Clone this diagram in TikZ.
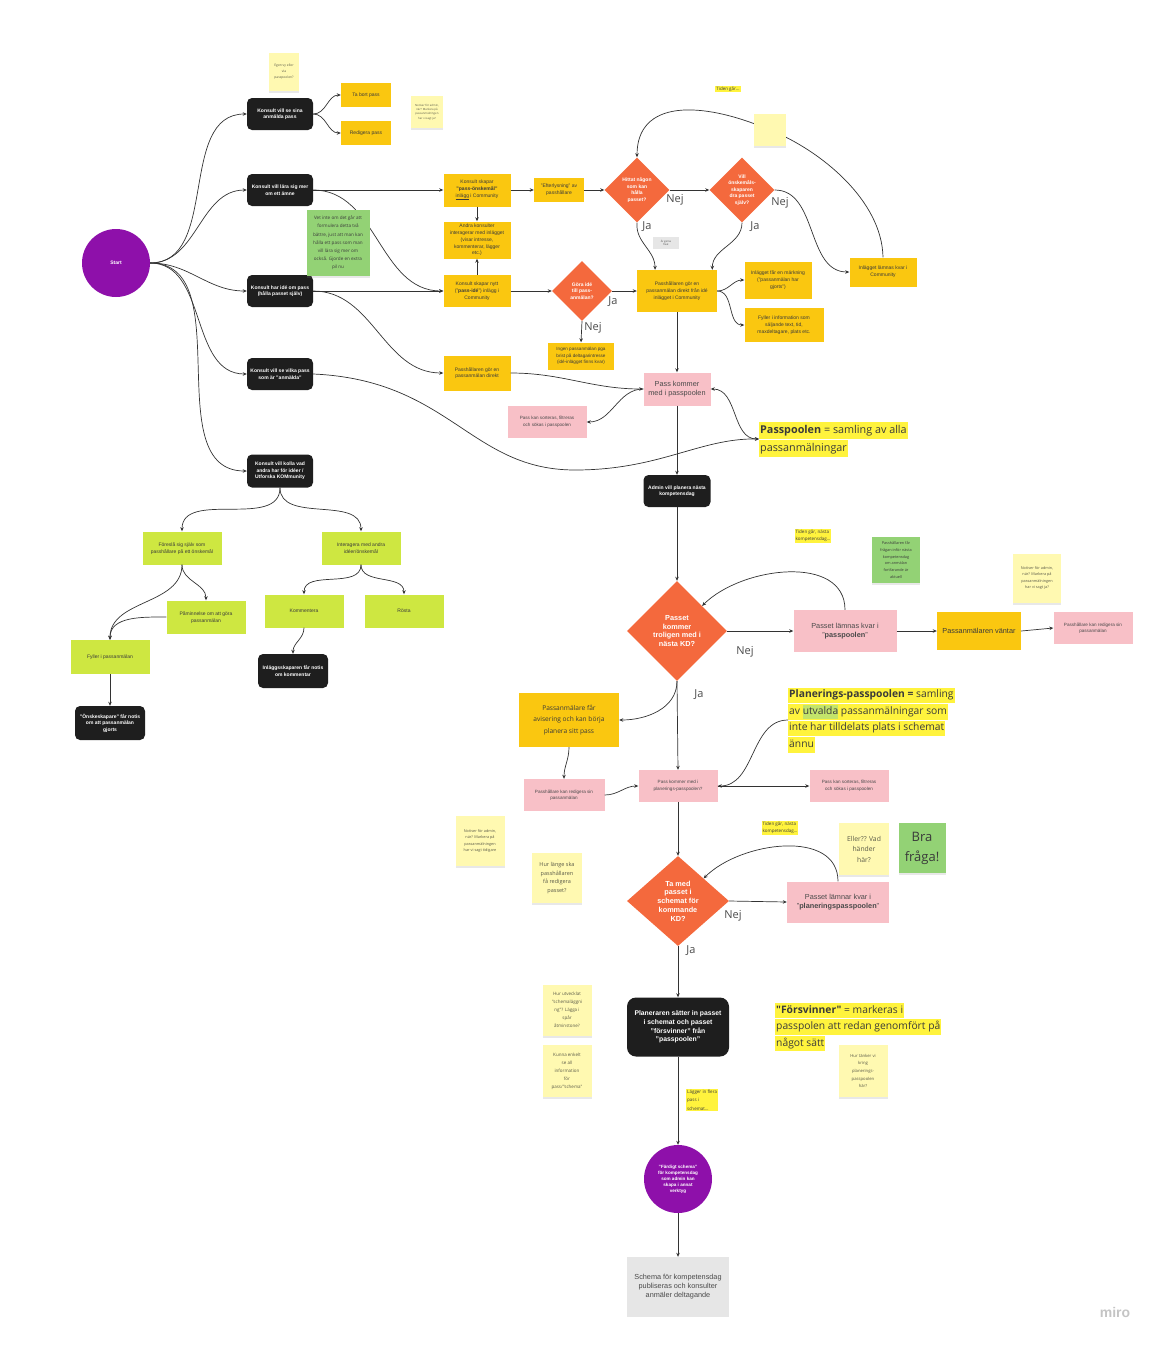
\documentclass[tikz,border=0pt]{standalone}
\usepackage{fontspec}
\setmainfont{Liberation Sans}
\newfontfamily\notefont{Open Sans}
\usetikzlibrary{shapes.geometric,arrows.meta,shadows}

\definecolor{boxblack}{HTML}{1E1E1E}
\definecolor{boxyellow}{HTML}{FAC710}
\definecolor{decisionorange}{HTML}{F4693D}
\definecolor{boxpink}{HTML}{F8C0C7}
\definecolor{boxlime}{HTML}{CEE741}
\definecolor{stickyyellow}{HTML}{FFF9B1}
\definecolor{stickygreen}{HTML}{93D275}
\definecolor{circlepurple}{HTML}{8E10AA}
\definecolor{hlyellow}{HTML}{FFF33D}
\definecolor{hlgreen}{HTML}{C3E46A}
\definecolor{schemagray}{HTML}{E6E6E6}
\definecolor{linegray}{HTML}{333333}
\definecolor{textdark}{HTML}{3A3A3A}
\definecolor{notetext}{HTML}{5A5A48}
\definecolor{answergray}{HTML}{4A4A4A}
\definecolor{mirogray}{HTML}{C4C4C4}

\setlength{\fboxsep}{1pt}
\newcommand{\hlline}[1]{\colorbox{hlyellow}{\strut #1}}

\begin{document}
\begin{tikzpicture}[x=1pt,y=-1pt]
    \useasboundingbox (0,0) rectangle (1161,1345);

    % Node styles
    \tikzstyle{black_box} = [rectangle, rounded corners=5pt, fill=boxblack, text=white, align=center, font=\bfseries\fontsize{5}{6.5}\selectfont, minimum width=66pt, minimum height=32pt, inner sep=1pt]
    \tikzstyle{yellow_box} = [rectangle, fill=boxyellow, text=textdark, align=center, font=\fontsize{5}{6.8}\selectfont, minimum width=67pt, minimum height=33pt, inner sep=1pt]
    \tikzstyle{pink_box} = [rectangle, fill=boxpink, text=answergray, align=center, font=\fontsize{4.6}{6.5}\selectfont, minimum width=79pt, minimum height=32pt, inner sep=1pt]
    \tikzstyle{lime_box} = [rectangle, fill=boxlime, text=textdark, align=center, font=\fontsize{5}{7}\selectfont, minimum width=79pt, minimum height=33pt, inner sep=1pt]
    \tikzstyle{decision_small} = [diamond, fill=decisionorange, text=white, align=center, font=\bfseries\fontsize{5}{6.5}\selectfont, minimum width=65pt, minimum height=65pt, inner sep=0pt]
    \tikzstyle{decision_big} = [diamond, fill=decisionorange, text=white, align=center, font=\bfseries\fontsize{7.3}{8.8}\selectfont, minimum width=100pt, minimum height=100pt, inner sep=0pt]
    \tikzstyle{round_node} = [circle, fill=circlepurple, text=white, align=center, font=\bfseries\fontsize{5}{6.5}\selectfont, minimum size=68pt, inner sep=0pt]
    \tikzstyle{sticky_note} = [rectangle, fill=stickyyellow, text=notetext, align=center, font=\notefont\fontsize{4}{6}\selectfont, inner sep=1pt, drop shadow={opacity=0.18, shadow xshift=0pt, shadow yshift=-2pt}]
    \tikzstyle{green_note} = [sticky_note, fill=stickygreen, text=textdark]
    \tikzstyle{hl_label} = [rectangle, fill=hlyellow, text=textdark, align=left, font=\notefont\fontsize{4.5}{7}\selectfont, inner sep=1pt]
    \tikzstyle{big_text} = [anchor=west, align=left, text=textdark, font=\notefont\fontsize{10.8}{15}\selectfont, inner sep=0pt]
    \tikzstyle{answer} = [text=answergray, font=\notefont\fontsize{11}{11}\selectfont, inner sep=0pt]
    \tikzstyle{conn} = [draw=linegray, line width=0.7pt, -{Stealth[length=4pt,width=3.5pt]}]

    % Start and the consultant's wishes
    \node[round_node] (start) at (116,263) {Start};
    \node[black_box] (se_anmalda) at (280,114) {Konsult vill se sina\\anmälda pass};
    \node[black_box] (lara_mer) at (280,190) {Konsult vill lära sig mer\\om ett ämne};
    \node[black_box] (har_ide) at (280,291) {Konsult har idé om pass\\(hålla passet själv)};
    \node[black_box] (se_vilka) at (280,374) {Konsult vill se vilka pass\\som är "anmälda"};
    \node[black_box, minimum height=33pt] (kolla_andra) at (280,471) {Konsult vill kolla vad\\andra har för idéer /\\Utforska KOMmunity};

    % Own passes
    \node[yellow_box, minimum width=50pt, minimum height=24pt] (ta_bort) at (366,95) {Ta bort pass};
    \node[yellow_box, minimum width=50pt, minimum height=24pt] (redigera_pass) at (366,133) {Redigera pass};

    % Wishes and ideas in Community
    \node[yellow_box] (onskemal) at (477,190) {Konsult skapar\\\textbf{"pass-önskemål"}\\\underline{inlägg} i Community};
    \node[yellow_box, minimum width=50pt, minimum height=24pt] (efterlysning) at (559,190) {"Efterlysning" av\\passhållare};
    \node[decision_small] (hittat) at (637,190) {Hittat någon\\som kan\\hålla\\passet?};
    \node[decision_small] (vill_dra) at (742,190) {Vill\\önskemåls-\\skaparen\\dra passet\\själv?};
    \node[yellow_box, minimum height=29pt] (lamnas_community) at (883,272) {Inlägget lämnas kvar i\\Community};
    \node[yellow_box, minimum height=37pt] (andra_konsulter) at (477,240) {Andra konsulter\\interagerar med inlägget\\(visar intresse,\\kommenterar, lägger\\etc.)};
    \node[yellow_box, minimum height=32pt] (nytt_inlagg) at (477,291) {Konsult skapar nytt\\("\textbf{pass-idé}") inlägg i\\Community};
    \node[decision_small, minimum width=60pt, minimum height=60pt] (gora_ide) at (582,291) {Göra idé\\till pass-\\anmälan?};
    \node[yellow_box, minimum width=66pt, minimum height=27pt, font=\fontsize{4.6}{6.3}\selectfont] (ingen_anmalan) at (581,356) {Ingen passanmälan pga\\brist på deltagarintresse\\(idé-inlägget finns kvar)};
    \node[yellow_box, minimum width=80pt, minimum height=42pt] (anmalan_fran_ide) at (677,291) {Passhållaren gör en\\passanmälan direkt från idé\\inlägget i Community};
    \node[yellow_box, minimum height=37pt] (markning) at (778,280) {Inlägget får en märkning\\("passanmälan har\\gjorts")};
    \node[yellow_box, minimum width=79pt, minimum height=34pt] (fyller_info) at (784,325) {Fyller i information som\\säljande text, tid,\\maxdeltagare, plats etc.};
    \node[yellow_box, minimum height=35pt] (anmalan_direkt) at (477,373) {Passhållaren gör en\\passanmälan direkt};

    % Passpoolen
    \node[pink_box, minimum width=67pt, minimum height=33pt, font=\fontsize{7.3}{9.3}\selectfont] (pass_kommer) at (677,389) {Pass kommer\\med i passpoolen};
    \node[pink_box] (sorteras) at (547,422) {Pass kan sorteras, filtreras\\och sökas i passpoolen};
    \node[big_text] (pool_text) at (759,439) {\hlline{\textbf{Passpoolen} = samling av alla}\\\hlline{passanmälningar}};

    % Exploring KOMmunity
    \node[lime_box] (foreslaa) at (182,548) {Föreslå sig själv som\\passhållare på ett önskemål};
    \node[lime_box] (interagera) at (361,548) {Interagera med andra\\idéer/önskemål};
    \node[lime_box] (paminnelse) at (206,617) {Påminnelse om att göra\\passanmälan};
    \node[lime_box, minimum height=34pt] (fyller_anmalan) at (110,657) {Fyller i passanmälan};
    \node[black_box, minimum width=70pt, minimum height=34pt] (onske_notis) at (110,723) {"Önskeskapare" får notis\\om att passanmälan\\gjorts};
    \node[lime_box] (kommentera) at (304,611) {Kommentera};
    \node[lime_box] (rosta) at (404,611) {Rösta};
    \node[black_box, minimum width=70pt, minimum height=34pt] (kommentar_notis) at (293,671) {Inläggsskaparen får notis\\om kommentar};

    % Planning the next competence day
    \node[black_box, minimum width=67pt] (admin) at (677,491) {Admin vill planera nästa\\kompetensdag};
    \node[decision_big] (troligen) at (677,631) {Passet\\kommer\\troligen med i\\nästa KD?};
    \node[pink_box, minimum width=103pt, minimum height=42pt, font=\fontsize{7.3}{9.3}\selectfont] (lamnas_pool) at (845,631) {Passet lämnas kvar i\\"\textbf{passpoolen}"};
    \node[yellow_box, minimum width=84pt, minimum height=38pt, font=\fontsize{7.3}{9}\selectfont] (vantar) at (979,631) {Passanmälaren väntar};
    \node[pink_box] (redigera_vantar) at (1093,628) {Passhållare kan redigera sin\\passanmälan};
    \node[yellow_box, minimum width=100pt, minimum height=54pt, font=\notefont\fontsize{6.6}{11.5}\selectfont] (avisering) at (569,720) {Passanmälare får\\avisering och kan börja\\planera sitt pass};
    \node[pink_box, minimum width=81pt] (redigera_planering) at (564,795) {Passhållare kan redigera sin\\passanmälan};
    \node[pink_box] (planer) at (678,786) {Pass kommer med i\\planerings-passpoolen?};
    \node[pink_box] (sorteras_planering) at (849,786) {Pass kan sorteras, filtreras\\och sökas i passpoolen};
    \node[big_text, font=\notefont\fontsize{10.3}{13.5}\selectfont] (plan_text) at (788,720) {\hlline{\textbf{Planerings-passpoolen =} samling}\\\hlline{av {\setlength{\fboxsep}{0pt}\colorbox{hlgreen}{\strut utvalda}} passanmälningar som}\\\hlline{inte har tilldelats plats i schemat}\\\hlline{ännu}};
    \node[decision_big, minimum width=102pt, minimum height=90pt] (tamed) at (678,901) {Ta med\\passet i\\schemat för\\kommande\\KD?};
    \node[pink_box, minimum width=102pt, minimum height=41pt, font=\fontsize{7.3}{9.3}\selectfont] (lamnar) at (838,902) {Passet lämnar kvar i\\"\textbf{planeringspasspoolen}"};
    \node[black_box, rounded corners=9pt, minimum width=102pt, minimum height=59pt, font=\bfseries\fontsize{6.8}{8.7}\selectfont] (planeraren) at (678,1027) {Planeraren sätter in passet\\i schemat och passet\\"försvinner" från\\"passpoolen"};
    \node[big_text, font=\notefont\fontsize{10.3}{13.5}\selectfont] (forsv_text) at (775,1027) {\hlline{\textbf{"Försvinner"} = markeras i}\\\hlline{passpolen att redan genomfört på}\\\hlline{något sätt}};
    \node[round_node, font=\bfseries\fontsize{4.6}{6}\selectfont] (faerdig) at (678,1179) {"Färdigt schema"\\för kompetensdag\\som admin kan\\skapa i annat\\verktyg};
    \node[rectangle, fill=schemagray, text=answergray, align=center, font=\fontsize{7.3}{9}\selectfont, minimum width=102pt, minimum height=60pt] (schema) at (678,1287) {Schema för kompetensdag\\publiseras och konsulter\\anmäler deltagande};

    % Ja / Nej
    \node[answer] (nej_hittat) at (675,200) {Nej};
    \node[answer] (ja_hittat) at (647,227) {Ja};
    \node[answer] (nej_vill) at (780,203) {Nej};
    \node[answer] (ja_vill) at (755,227) {Ja};
    \node[answer] (ja_gora) at (613,302) {Ja};
    \node[answer] (nej_gora) at (593,328) {Nej};
    \node[answer] (nej_troligen) at (745,652) {Nej};
    \node[answer] (ja_troligen) at (699,695) {Ja};
    \node[answer] (nej_tamed) at (733,916) {Nej};
    \node[answer] (ja_tamed) at (691,951) {Ja};

    % Notes
    \node[sticky_note, minimum width=30pt, minimum height=38pt, font=\notefont\fontsize{3.3}{6}\selectfont] (egen_vy) at (284,72) {Egen vy eller\\via\\passpoolen?};
    \node[sticky_note, minimum width=32pt, minimum height=32pt, font=\notefont\fontsize{2.8}{4.2}\selectfont] (notiser_top) at (427,112) {Notiser för admin,\\när? Markera på\\passanmälningen\\har vi sagt ja?};
    \node[rectangle, fill=schemagray, text=answergray, font=\notefont\fontsize{2.6}{3.6}\selectfont, align=center, minimum width=26pt, minimum height=12pt, inner sep=0.5pt] (gray_note) at (666,243) {Är gärna\\fixat};
    \node[hl_label] (tiden_ett) at (728,89) {Tiden går...};
    \node[hl_label] (tiden_tva) at (813,536) {Tiden går, nästa\\kompetensdag...};
    \node[green_note, minimum width=48pt, minimum height=46pt, font=\notefont\fontsize{3.8}{6.8}\selectfont] (fragan_note) at (896,560) {Passhållaren får\\frågan inför nästa\\kompetensdag\\om anmälan\\fortfarande är\\aktuell};
    \node[sticky_note, minimum width=48pt, minimum height=49pt, font=\notefont\fontsize{3.8}{6.2}\selectfont] (notiser_ja) at (1037,578) {Notiser för admin,\\när? Markera på\\passanmälningen\\har vi sagt ja?};
    \node[sticky_note, minimum width=49pt, minimum height=50pt, font=\notefont\fontsize{3.8}{6.2}\selectfont] (notiser_tidigare) at (480,841) {Notiser för admin,\\när? Markera på\\passanmälningen\\har vi sagt tidigare};
    \node[sticky_note, minimum width=50pt, minimum height=50pt, font=\notefont\fontsize{5.5}{8.6}\selectfont] (redigera_note) at (557,878) {Hur länge ska\\passhållaren\\få redigera\\passet?};
    \node[hl_label] (tiden_tre) at (780,828) {Tiden går, nästa\\kompetensdag...};
    \node[sticky_note, minimum width=50pt, minimum height=52pt, font=\notefont\fontsize{6.8}{10.5}\selectfont] (eller_note) at (864,849) {Eller?? Vad\\händer\\här?};
    \node[green_note, minimum width=47pt, minimum height=50pt, font=\notefont\fontsize{13}{20}\selectfont] (bra_note) at (922,848) {Bra\\fråga!};
    \node[sticky_note, minimum width=49pt, minimum height=51pt, font=\notefont\fontsize{4.5}{8}\selectfont] (schema_note) at (567,1010) {Hur utvecklat\\"schemaläggni\\ng"? Lägga i\\spår\\åtminstone?};
    \node[sticky_note, minimum width=49pt, minimum height=52pt, font=\notefont\fontsize{4.5}{8}\selectfont] (info_note) at (567,1071) {Kunna enkelt\\se all\\information\\för\\pass/"schema"};
    \node[sticky_note, minimum width=49pt, minimum height=52pt, font=\notefont\fontsize{4.2}{7.6}\selectfont] (tanker_note) at (863,1071) {Hur tänker vi\\kring\\planerings-\\passpoolen\\här?};
    \node[hl_label, anchor=west, font=\notefont\fontsize{4.5}{8.5}\selectfont] (lagger) at (686,1100) {Lägger in flera\\pass i\\schemat...};
    \node[text=mirogray, font=\bfseries\fontsize{14}{14}\selectfont] (miro_mark) at (1115,1312) {miro};
    \coordinate (tiden_note) at (770,130);

    % Arrows
    \draw[conn] (start) to[out=0,in=180] (se_anmalda.west);
    \draw[conn] (start) to[out=0,in=180] (lara_mer.west);
    \draw[conn] (start) to[out=0,in=180] (har_ide.west);
    \draw[conn] (start) to[out=0,in=180] (se_vilka.west);
    \draw[conn] (start) to[out=0,in=180] (kolla_andra.west);
    \draw[conn] (se_anmalda.east) to[out=0,in=180] (ta_bort.west);
    \draw[conn] (se_anmalda.east) to[out=0,in=180] (redigera_pass.west);
    \draw[conn] (lara_mer.east) -- (onskemal.west);
    \draw[conn] (lara_mer.east) to[out=0,in=180] (nytt_inlagg.west);
    \draw[conn] (onskemal.south) -- (andra_konsulter.north);
    \draw[conn] (nytt_inlagg.north) -- (andra_konsulter.south);
    \draw[conn] (onskemal.east) -- (efterlysning.west);
    \draw[conn] (efterlysning.east) -- (hittat.west);
    \draw[conn] (hittat.east) -- (vill_dra.west);
    \draw[conn] (vill_dra.east) to[out=0,in=180] (lamnas_community.west);
    \draw[conn] (lamnas_community.north) .. controls (882,200) and (820,150) .. (tiden_note) .. controls (700,100) and (637,100) .. (hittat.north);
    \draw[conn] (hittat.south) to[out=-95,in=90] (anmalan_fran_ide.136);
    \draw[conn] (vill_dra.south) to[out=-90,in=90] (anmalan_fran_ide.31);
    \draw[conn] (har_ide.east) -- (nytt_inlagg.west);
    \draw[conn] (har_ide.east) to[out=0,in=180] (anmalan_direkt.west);
    \draw[conn] (nytt_inlagg.east) -- (gora_ide.west);
    \draw[conn] (gora_ide.east) -- (anmalan_fran_ide.west);
    \draw[conn] (gora_ide.south) -- (ingen_anmalan.north);
    \draw[conn] (anmalan_fran_ide.east) to[out=0,in=180] (markning.west);
    \draw[conn] (anmalan_fran_ide.east) to[out=0,in=180] (fyller_info.west);
    \draw[conn] (anmalan_fran_ide.south) -- (pass_kommer.north);
    \draw[conn] (anmalan_direkt.east) to[out=0,in=180] (pass_kommer.west);
    \draw[conn] (pass_kommer.west) to[out=180,in=0] (sorteras.east);
    \draw[conn, {Stealth[length=4pt,width=3.5pt]}-{Stealth[length=4pt,width=3.5pt]}] (pass_kommer.east) to[out=0,in=180] (pool_text.west);
    \draw[conn] (se_vilka.east) .. controls (450,380) and (470,470) .. (575,470) .. controls (660,470) and (700,438) .. (pool_text.west);
    \draw[conn] (pass_kommer.south) -- (admin.north);
    \draw[conn] (kolla_andra.south) to[out=-90,in=90] (foreslaa.north);
    \draw[conn] (kolla_andra.south) to[out=-90,in=90] (interagera.north);
    \draw[conn] (foreslaa.south) to[out=-90,in=90] (paminnelse.north);
    \draw[conn] (foreslaa.south) to[out=-90,in=90] (fyller_anmalan.north);
    \draw[conn] (paminnelse.west) to[out=180,in=90] (fyller_anmalan.north);
    \draw[conn] (fyller_anmalan.south) -- (onske_notis.north);
    \draw[conn] (interagera.south) to[out=-90,in=90] (kommentera.north);
    \draw[conn] (interagera.south) to[out=-90,in=90] (rosta.north);
    \draw[conn] (kommentera.south) to[out=-90,in=90] (kommentar_notis.north);
    \draw[conn] (admin.south) -- (troligen.north);
    \draw[conn] (troligen.east) -- (lamnas_pool.west);
    \draw[conn] (lamnas_pool.north) to[out=90,in=45] (troligen.north east);
    \draw[conn] (lamnas_pool.east) -- (vantar.west);
    \draw[conn] (vantar.east) -- (redigera_vantar.west);
    \draw[conn] (troligen.south) -- (planer.north);
    \draw[conn] (troligen.south) to[out=-90,in=0] (avisering.east);
    \draw[conn] (avisering.south) to[out=-90,in=90] (redigera_planering.north);
    \draw[conn] (redigera_planering.east) to[out=0,in=180] (planer.west);
    \draw[conn] (plan_text.west) to[out=180,in=0] (planer.east);
    \draw[conn] (planer.east) -- (sorteras_planering.west);
    \draw[conn] (planer.south) -- (tamed.north);
    \draw[conn] (tamed.east) -- (lamnar.west);
    \draw[conn] (lamnar.north) to[out=90,in=45] (tamed.north east);
    \draw[conn] (tamed.south) -- (planeraren.north);
    \draw[conn] (planeraren.south) -- (faerdig.north);
    \draw[conn] (faerdig.south) -- (schema.north);

    % Notes lying over the lines
    \node[green_note, minimum width=63pt, minimum height=66pt, font=\notefont\fontsize{4.6}{8.2}\selectfont] (pil_note) at (338,243) {Vet inte om det går att\\formulera detta två\\bättre, just att man kan\\hålla ett pass som man\\vill lära sig mer om\\också. Gjorde en extra\\pil nu};
    \node[sticky_note, minimum width=32pt, minimum height=32pt] (tiden_sticky) at (tiden_note) {};
\end{tikzpicture}
\end{document}
